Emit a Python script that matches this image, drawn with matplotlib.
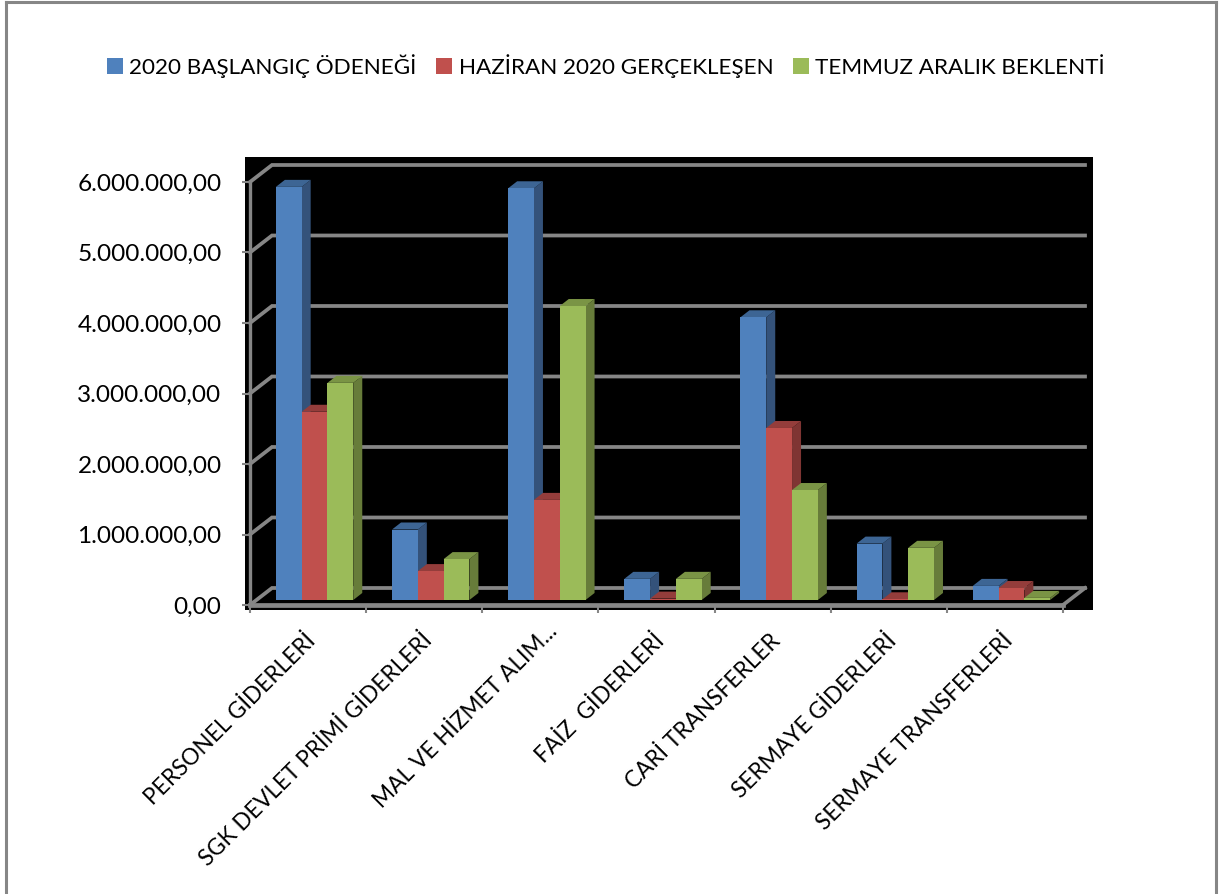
import matplotlib
matplotlib.use("Agg")
import matplotlib.pyplot as plt
from matplotlib.lines import Line2D
from matplotlib.patches import Rectangle, Patch
from matplotlib.transforms import ScaledTranslation

categories = ["PERSONEL GİDERLERİ", "SGK DEVLET PRİMİ GİDERLERİ", "MAL VE HİZMET ALIM...",
              "FAİZ  GİDERLERİ", "CARİ TRANSFERLER", "SERMAYE GİDERLERİ", "SERMAYE TRANSFERLERİ"]
series_names = ["2020 BAŞLANGIÇ ÖDENEĞİ", "HAZİRAN 2020 GERÇEKLEŞEN", "TEMMUZ ARALIK BEKLENTİ"]
baslangic = [5860000, 1000000, 5840000, 300000, 4010000, 800000, 200000]
haziran = [2670000, 410000, 1420000, 20000, 2440000, 10000, 170000]
temmuz = [3080000, 580000, 4170000, 300000, 1560000, 740000, 30000]
y_ticks = [0, 1000000, 2000000, 3000000, 4000000, 5000000, 6000000]
y_labels = ["0,00", "1.000.000,00", "2.000.000,00", "3.000.000,00", "4.000.000,00", "5.000.000,00", "6.000.000,00"]

W, H = 1230, 894
plt.rcParams["font.family"] = ["Lato", "DejaVu Sans"]
fig = plt.figure(figsize=(W / 100, H / 100), dpi=100)
fig.patch.set_facecolor("white")

def fx(p): return p / W
def fy(p): return 1 - p / H

GRAY = "#868686"
fig.add_artist(Rectangle((fx(245), fy(609.5)), fx(848), (609.5 - 157) / H, transform=fig.transFigure,
                         facecolor="black", edgecolor="none", zorder=-5))
for xs, ys in [((6, 6), (2, 894)), ((6, 1216), (2, 2)), ((1216, 1216), (2, 894))]:
    fig.add_artist(Line2D([fx(v) for v in xs], [fy(v) for v in ys], transform=fig.transFigure,
                          color=GRAY, lw=2.2, zorder=-4))

ax = fig.add_axes([fx(250), fy(605), (1063 - 250) / W, (605 - 182) / H])
ax.patch.set_visible(False)
ax.set_xlim(0, 7)
ax.set_ylim(0, 6000000)

px_x = 7 / (1063 - 250)
px_y = 6000000 / (605 - 182)
wall_dx, wall_dy = 22 * px_x, 17 * px_y
bar_dx, bar_dy = 9 * px_x, 7 * px_y
base_dx, base_dy = 6.5 * px_x, 5 * px_y
bar_w = 25.8 * px_x

# walls and gridlines
for t in y_ticks:
    ax.plot([0, wall_dx, 7 + wall_dx], [t, t + wall_dy, t + wall_dy], color=GRAY, lw=2.7,
            clip_on=False, zorder=1, solid_joinstyle="miter")
ax.plot([7, 7 + wall_dx], [0, wall_dy], color=GRAY, lw=2.7, clip_on=False, zorder=1)

front = ["#4F81BD", "#C0504D", "#9BBB59"]
side = ["#34527A", "#7F3533", "#677C3A"]
top = ["#3D6594", "#943D3B", "#7A9445"]

z = 2
for i in range(7):
    for s, vals in enumerate((baslangic, haziran, temmuz)):
        v = vals[i]
        x0 = i + 0.5 + base_dx + (s - 1.5) * bar_w
        x1 = x0 + bar_w
        y1 = base_dy + v
        ax.fill([x1, x1 + bar_dx, x1 + bar_dx, x1], [base_dy, base_dy + bar_dy, y1 + bar_dy, y1],
                color=side[s], lw=0, clip_on=False, zorder=z)
        ax.fill([x0, x0 + bar_dx, x1 + bar_dx, x1], [y1, y1 + bar_dy, y1 + bar_dy, y1],
                color=top[s], lw=0, clip_on=False, zorder=z)
        ax.bar(x0, v, width=bar_w, bottom=base_dy, align="edge", color=front[s], lw=0, clip_on=False, zorder=z + 0.5)
        z += 1

for name in ("top", "right"):
    ax.spines[name].set_visible(False)
ax.spines["left"].set_color(GRAY)
ax.spines["left"].set_linewidth(2.4)
ax.spines["bottom"].set_color(GRAY)
ax.spines["bottom"].set_linewidth(3.4)
for sp in ax.spines.values():
    sp.set_zorder(z + 2)

ax.set_yticks(y_ticks, y_labels)
ax.tick_params(axis="y", length=5.5, width=1.5, color=GRAY, pad=15, labelsize=17.6, labelcolor="black")
ax.set_xticks(range(8), [""] * 8)
ax.set_xticks([i + 0.5 for i in range(7)], categories, minor=True)
ax.tick_params(axis="x", which="major", length=5.5, width=1.5, color=GRAY)
ax.tick_params(axis="x", which="minor", length=0, pad=18, labelsize=16.3, labelcolor="black")
for i, lab in enumerate(ax.get_xticklabels(minor=True)):
    lab.set_rotation(45)
    lab.set_ha("right")
    lab.set_va("top")
    lab.set_rotation_mode("anchor")
    sx, sy = (6, 10) if i == 2 else (-3, 0)
    lab.set_transform(lab.get_transform() + ScaledTranslation(sx / 100, sy / 100, fig.dpi_scale_trans))

handles = [Patch(facecolor=c, edgecolor="none", label=n) for c, n in zip(front, series_names)]
fig.legend(handles=handles, loc="center", bbox_to_anchor=(fx(606), fy(66)), ncol=3, frameon=False,
           fontsize=16.2, handlelength=0.7, handleheight=0.7, handletextpad=0.3, columnspacing=0.87)

fig.savefig("out.png", dpi=100)
